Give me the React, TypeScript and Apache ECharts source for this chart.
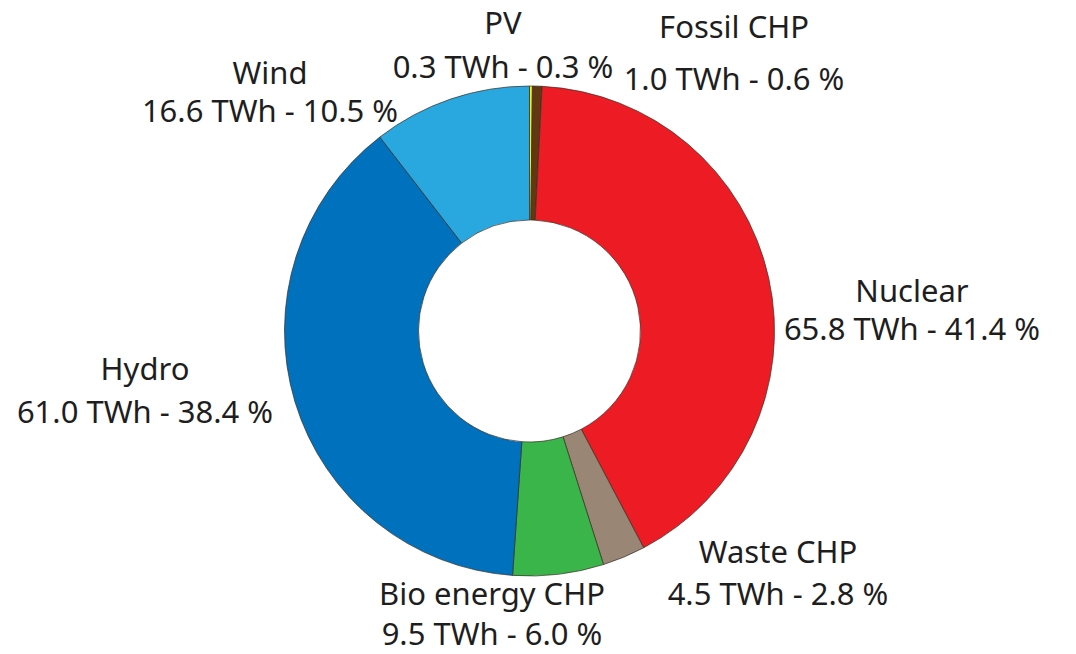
import React, { useEffect, useRef } from "react";
import * as echarts from "echarts";

const categories = ["PV", "Fossil CHP", "Nuclear", "Waste CHP", "Bio energy CHP", "Hydro", "Wind"];
const energyTWh = [0.3, 1.0, 65.8, 4.5, 9.5, 61.0, 16.6];
const sharePct = [0.3, 0.6, 41.4, 2.8, 6.0, 38.4, 10.5];
const colors = ["#fff200", "#603913", "#ed1c24", "#998675", "#3ab54a", "#0071bc", "#29a8e0"];
// label block centres [x, y, lineHeight]
const labelPos: number[][] = [
  [503, 44, 44],
  [734, 52, 52],
  [912, 309, 38],
  [778, 572, 42],
  [492, 613, 40],
  [145, 389, 43],
  [270, 91, 38],
];

export default function App() {
  const ref = useRef<HTMLDivElement>(null);
  useEffect(() => {
    if (!ref.current) return;
    const chart = echarts.init(ref.current, null, { renderer: "svg" });
    chart.setOption({
      animation: false,
      backgroundColor: "#ffffff",
      series: [
        {
          type: "pie",
          center: [529.5, 331],
          radius: [111, 245],
          startAngle: 90,
          clockwise: true,
          silent: true,
          avoidLabelOverlap: false,
          itemStyle: { borderColor: "#3a2c22", borderWidth: 0.7 },
          label: {
            show: true,
            position: "outside",
            color: "#1e1e1e",
            fontFamily: "Noto Sans",
            fontSize: 31,
            align: "center",
            formatter: (p: any) =>
              `${categories[p.dataIndex]}\n${energyTWh[p.dataIndex].toFixed(1)} TWh - ${sharePct[p.dataIndex].toFixed(1)} %`,
          },
          labelLine: { show: false },
          labelLayout: (p: any) => {
            const lp = labelPos[p.dataIndex];
            return { x: lp[0], y: lp[1], align: "center", verticalAlign: "middle" };
          },
          data: categories.map((name, i) => ({
            name,
            value: energyTWh[i],
            itemStyle: { color: colors[i] },
            label: { lineHeight: labelPos[i][2] },
          })),
        },
      ],
    });
    return () => chart.dispose();
  }, []);
  return (
    <div
      ref={ref}
      style={{ position: "fixed", left: 0, top: 0, width: 1076, height: 654 }}
    />
  );
}
